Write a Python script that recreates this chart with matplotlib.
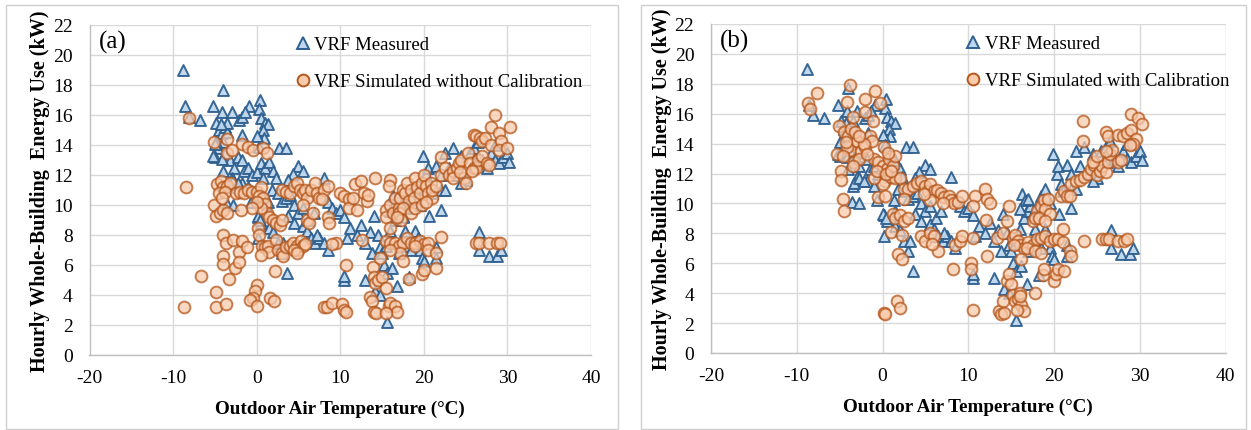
import matplotlib
matplotlib.use("Agg")
import matplotlib.pyplot as plt
from matplotlib.patches import Rectangle
from matplotlib.lines import Line2D

plt.rcParams['font.family'] = ['Liberation Serif', 'DejaVu Serif']
plt.rcParams['axes.unicode_minus'] = False

# ---------------- data (temperature degC, energy kW) ----------------
measured = [
    (-8.8, 19.0), (-8.6, 16.6), (-6.8, 15.7), (-8.1, 15.9), (-5.2, 16.6), (-4.0, 17.7),
    (-4.2, 16.2), (-3.0, 16.2), (-4.9, 15.5), (-4.5, 15.0), (-4.2, 14.8), (-3.8, 15.2),
    (-3.5, 14.9), (-4.0, 14.2), (-4.6, 13.8), (-5.0, 13.2), (-4.9, 14.2), (-3.8, 13.5),
    (-3.2, 13.0), (-4.1, 13.1), (-3.5, 15.5), (-4.3, 15.4), (-2.1, 15.7), (-1.7, 15.9),
    (-0.9, 16.6), (-1.4, 16.2), (-1.7, 14.7), (-2.2, 13.2), (-1.8, 13.0), (-1.5, 12.3),
    (0.4, 17.0), (0.3, 16.4), (0.5, 15.8), (1.0, 15.5), (1.4, 15.4), (0.8, 15.0),
    (0.9, 14.5), (0.05, 14.6), (0.3, 13.9), (-1.0, 12.5), (-0.5, 12.0), (0.0, 12.2),
    (0.5, 12.8), (1.0, 12.5), (1.5, 12.9), (2.0, 12.3), (2.3, 11.8), (-2.7, 12.5),
    (-3.0, 11.8), (-1.8, 11.5), (-1.0, 11.2), (0.7, 11.8), (1.8, 11.0), (2.7, 13.8),
    (3.5, 13.8), (5.0, 12.6), (5.5, 12.3), (4.3, 12.1), (3.8, 11.7), (2.5, 10.8),
    (3.0, 10.3), (3.5, 10.5), (4.0, 10.7), (4.5, 10.0), (5.0, 9.5), (5.5, 9.8),
    (3.8, 9.3), (4.5, 8.8), (5.5, 8.6), (6.0, 8.3), (6.5, 7.8), (7.0, 7.5),
    (7.5, 7.8), (8.0, 7.5), (8.5, 7.0), (6.2, 9.0), (6.8, 9.5), (7.2, 8.0),
    (1.3, 10.2), (1.5, 9.5), (0.2, 9.2), (0.5, 8.8), (1.5, 8.5), (2.0, 8.2),
    (2.5, 7.5), (3.0, 6.8), (3.2, 7.5), (3.6, 5.5), (8.0, 11.8), (8.5, 10.2),
    (9.0, 9.8), (9.5, 9.5), (10.0, 9.7), (10.5, 9.2), (10.8, 7.8), (11.2, 8.5),
    (12.0, 8.0), (12.5, 8.7), (13.0, 7.5), (13.5, 8.2), (13.8, 6.8), (14.0, 9.3),
    (14.5, 8.0), (14.8, 7.2), (15.0, 6.8), (15.5, 7.3), (15.2, 6.0), (15.6, 5.5),
    (13.0, 5.0), (14.2, 4.3), (14.8, 4.0), (15.6, 2.2), (10.5, 5.0), (10.5, 5.3),
    (16.0, 8.3), (16.5, 9.0), (16.8, 9.5), (17.2, 9.8), (17.5, 9.3), (16.2, 5.8),
    (16.8, 4.6), (17.0, 6.8), (17.5, 7.5), (17.8, 8.3), (18.0, 7.3), (18.5, 7.0),
    (19.0, 8.3), (19.3, 7.8), (19.5, 7.0), (19.8, 6.5), (20.0, 6.3), (18.2, 5.2),
    (19.9, 13.3), (20.3, 12.0), (20.5, 12.5), (20.8, 11.3), (21.0, 10.8), (20.6, 9.3),
    (21.5, 12.6), (22.0, 9.7), (21.5, 7.2), (21.5, 6.5), (22.0, 11.0), (22.5, 13.5),
    (22.5, 11.0), (23.0, 12.5), (23.5, 13.8), (24.0, 12.0), (24.5, 13.3), (25.0, 11.7),
    (25.5, 13.5), (26.0, 13.8), (26.2, 12.8), (26.5, 14.2), (27.0, 13.0), (27.5, 12.5),
    (28.0, 13.5), (28.5, 14.0), (28.5, 13.0), (29.0, 12.8), (29.5, 13.2), (30.0, 13.5),
    (30.2, 12.9), (26.6, 8.2), (26.6, 7.0), (27.8, 6.6), (28.8, 6.6), (29.2, 7.0),
    (22.0, 12.0), (24.5, 11.5), (17.5, 9.2), (18.0, 9.8), (18.5, 10.5), (19.0, 11.0),
    (19.5, 10.0), (-5.2, 13.3), (-5.0, 14.1), (-4.0, 12.3), (-3.5, 11.2), (-3.6, 10.1),
    (-2.8, 10.0), (-3.3, 11.4), (-2.8, 11.7), (-2.2, 11.5), (0.2, 7.8), (0.1, 9.3),
    (0.4, 9.0), (-0.7, 10.2), (16.3, 10.6), (16.6, 10.2), (16.0, 9.6), (17.0, 10.3),
]

sim_uncal = [
    (-8.7, 3.2), (-8.5, 11.2), (-8.1, 15.8), (-6.7, 5.3), (-4.9, 4.2), (-4.9, 3.2),
    (-3.7, 3.4), (-5.1, 14.2), (-3.6, 14.4), (-3.5, 13.5), (-3.0, 13.7), (-5.1, 10.0),
    (-4.9, 9.3), (-4.4, 9.5), (-4.0, 9.7), (-3.5, 9.5), (-4.7, 11.4), (-4.3, 11.6),
    (-4.0, 11.2), (-3.6, 11.3), (-3.2, 11.5), (-4.5, 10.8), (-3.8, 10.9), (-4.2, 10.5),
    (-2.5, 10.8), (-2.0, 10.9), (-1.5, 10.8), (-1.0, 11.0), (-0.5, 10.9), (0.0, 10.9),
    (0.5, 11.2), (0.3, 10.6), (0.8, 10.5), (1.0, 10.1), (1.2, 9.5), (0.5, 9.8),
    (0.0, 10.2), (-0.5, 9.8), (-1.9, 9.7), (-4.0, 8.0), (-3.7, 7.5), (-2.8, 7.7),
    (-1.8, 7.6), (-2.1, 6.9), (-1.1, 7.2), (-4.0, 6.6), (-4.0, 6.1), (-2.6, 5.8),
    (-2.1, 6.2), (-3.3, 5.1), (-1.8, 14.1), (-1.0, 13.9), (-0.4, 13.7), (0.8, 13.8),
    (1.2, 13.5), (0.1, 8.5), (0.3, 8.0), (0.6, 7.3), (1.0, 7.2), (1.3, 7.3),
    (1.5, 6.9), (0.5, 6.7), (0.0, 4.7), (-0.2, 4.3), (-0.4, 3.8), (-0.8, 3.7),
    (0.0, 3.3), (1.6, 3.8), (2.1, 3.6), (2.2, 5.6), (2.3, 7.7), (1.5, 9.2),
    (2.0, 9.0), (2.3, 8.8), (2.8, 8.7), (3.0, 9.0), (2.5, 7.0), (3.0, 6.8),
    (3.2, 6.6), (3.5, 7.2), (4.0, 7.3), (4.3, 7.5), (4.8, 7.3), (5.0, 7.0),
    (5.3, 7.6), (5.5, 7.3), (5.8, 7.4), (4.5, 7.0), (4.8, 6.8), (3.0, 11.0),
    (3.5, 10.9), (4.0, 10.8), (4.5, 11.3), (4.8, 11.5), (5.2, 11.0), (5.5, 10.8),
    (5.8, 11.0), (6.0, 10.5), (6.5, 11.0), (7.0, 11.5), (7.2, 10.8), (7.5, 10.5),
    (8.0, 11.0), (8.5, 11.3), (7.8, 10.4), (5.5, 10.0), (6.0, 9.0), (6.3, 8.8),
    (6.7, 9.5), (8.5, 9.2), (8.6, 8.8), (9.5, 7.5), (9.0, 7.4), (8.0, 3.2),
    (8.4, 3.2), (9.0, 3.5), (10.2, 3.4), (10.5, 3.0), (10.7, 2.9), (10.7, 6.0),
    (10.0, 10.8), (10.5, 10.6), (11.0, 10.4), (11.0, 9.8), (11.5, 10.5), (11.8, 11.4),
    (12.5, 11.6), (12.8, 10.8), (13.2, 10.3), (13.3, 10.7), (12.0, 9.7), (12.6, 7.7),
    (14.2, 11.8), (13.5, 3.9), (13.8, 3.6), (14.0, 2.9), (14.3, 2.8), (13.9, 5.9),
    (14.0, 5.2), (14.2, 4.8), (14.5, 5.0), (14.8, 6.5), (15.0, 5.2), (15.5, 4.5),
    (15.8, 3.3), (16.0, 3.5), (16.5, 3.3), (16.8, 2.9), (15.5, 2.8), (15.5, 9.7),
    (16.0, 10.0), (16.0, 11.7), (15.8, 11.3), (15.5, 9.2), (16.0, 8.5), (16.3, 9.5),
    (16.5, 10.5), (17.0, 9.8), (17.2, 10.5), (17.5, 11.0), (17.8, 10.8), (18.0, 11.5),
    (18.2, 10.3), (18.5, 11.0), (18.8, 10.5), (19.0, 11.8), (19.2, 11.2), (19.5, 10.8),
    (19.8, 11.5), (20.0, 12.0), (20.3, 11.3), (20.5, 10.8), (20.8, 11.5), (21.0, 10.5),
    (17.0, 9.5), (17.5, 9.8), (18.5, 9.5), (19.0, 9.8), (19.8, 10.0), (20.2, 10.2),
    (17.3, 9.0), (16.8, 9.2), (15.5, 7.6), (16.0, 7.5), (16.5, 7.5), (17.0, 7.3),
    (17.5, 7.5), (18.0, 7.8), (18.5, 7.5), (19.0, 7.5), (19.5, 7.6), (20.0, 7.4),
    (20.5, 7.5), (17.2, 6.8), (16.0, 7.0), (19.0, 7.3), (17.5, 6.3), (18.2, 5.1),
    (19.8, 5.4), (20.0, 5.7), (20.5, 7.0), (21.5, 5.8), (21.5, 6.8), (22.0, 7.9),
    (21.0, 11.0), (21.5, 11.3), (22.0, 12.0), (22.0, 13.2), (22.5, 12.5), (23.0, 12.0),
    (23.5, 12.3), (24.0, 12.5), (24.2, 12.8), (24.5, 13.0), (24.8, 11.8), (25.0, 11.5),
    (25.3, 13.5), (25.5, 12.8), (26.0, 12.5), (26.3, 12.5), (26.5, 13.0), (27.0, 13.3),
    (27.5, 12.8), (27.8, 12.7), (26.0, 14.7), (26.3, 14.6), (26.7, 14.5), (27.0, 14.3),
    (27.3, 14.5), (28.0, 14.0), (28.0, 15.2), (28.5, 16.0), (29.0, 14.8), (29.2, 14.3),
    (29.0, 13.7), (30.0, 13.8), (30.3, 15.2), (23.5, 11.8), (24.3, 12.2), (25.8, 12.3),
    (26.3, 7.5), (26.6, 7.5), (27.8, 7.5), (28.8, 7.5), (29.1, 7.5),
]

sim_cal = [
    (-8.7, 16.7), (-8.4, 16.3), (-7.6, 17.4), (-3.8, 17.9), (-4.1, 16.8), (-2.0, 17.0),
    (-0.9, 17.5), (-0.3, 16.7), (-1.1, 15.5), (-2.0, 16.1), (-3.5, 15.8), (-5.1, 15.2),
    (-5.3, 13.3), (-4.9, 12.2), (-4.9, 11.6), (-4.6, 10.3), (-4.5, 9.5), (-4.5, 14.8),
    (-4.0, 14.5), (-3.5, 14.0), (-3.8, 13.6), (-4.2, 13.8), (-3.0, 14.2), (-2.5, 13.5),
    (-2.0, 13.8), (-1.5, 14.5), (-1.2, 14.2), (-1.0, 13.0), (-3.3, 12.8), (-2.8, 13.0),
    (-3.5, 12.5), (-4.6, 13.2), (-2.2, 14.0), (-0.5, 12.8), (0.0, 12.5), (0.5, 12.3),
    (0.8, 13.0), (1.2, 12.5), (1.5, 13.2), (0.3, 11.5), (0.0, 11.3), (1.0, 11.8),
    (1.5, 11.7), (2.0, 11.7), (-1.0, 11.7), (-0.5, 10.4), (0.3, 10.5), (0.2, 13.8),
    (0.6, 13.4), (-3.7, 15.0), (-3.2, 14.8), (-4.3, 14.1), (-2.7, 14.5), (-1.8, 13.3),
    (-0.7, 12.2), (0.4, 12.0), (1.0, 12.2), (2.5, 11.0), (3.0, 11.0), (3.5, 11.2),
    (4.0, 11.4), (4.5, 11.5), (5.0, 11.2), (5.3, 10.8), (5.5, 11.3), (6.0, 10.8),
    (6.3, 10.9), (6.8, 10.7), (7.2, 10.4), (7.7, 10.5), (8.0, 10.2), (8.3, 10.0),
    (8.8, 10.1), (9.3, 10.5), (5.5, 10.2), (4.8, 10.6), (7.0, 10.0), (1.2, 9.3),
    (1.5, 9.0), (2.0, 9.2), (2.5, 8.8), (3.0, 9.0), (2.5, 10.3), (1.0, 8.1),
    (2.3, 7.9), (1.8, 6.6), (2.3, 6.3), (4.5, 7.8), (5.0, 7.5), (5.5, 8.0),
    (6.0, 7.8), (6.5, 6.8), (5.8, 7.3), (8.2, 5.6), (8.5, 7.2), (9.0, 7.5),
    (9.3, 7.8), (10.5, 7.7), (10.3, 6.0), (10.3, 5.6), (10.5, 2.9), (1.7, 3.5),
    (2.0, 3.0), (0.2, 2.7), (0.3, 2.6), (10.8, 10.5), (10.5, 9.8), (12.0, 11.0),
    (12.2, 10.3), (12.5, 10.0), (12.1, 8.9), (12.2, 6.5), (13.4, 7.7), (14.0, 8.0),
    (14.7, 9.8), (14.5, 8.8), (13.6, 2.8), (13.8, 2.6), (14.0, 3.5), (14.2, 2.7),
    (14.5, 4.8), (14.7, 5.3), (15.0, 4.6), (15.2, 3.9), (15.5, 3.5), (15.8, 3.6),
    (16.0, 4.0), (16.2, 3.2), (16.5, 2.8), (15.7, 2.9), (16.0, 3.8), (15.2, 7.7),
    (15.5, 7.9), (15.8, 7.5), (16.0, 7.2), (16.5, 7.0), (17.0, 7.4), (17.5, 7.2),
    (18.0, 7.6), (18.5, 7.7), (19.0, 7.8), (19.5, 7.5), (20.0, 7.6), (20.5, 7.6),
    (21.0, 7.4), (16.8, 7.0), (17.8, 6.8), (18.5, 6.7), (16.2, 6.3), (15.3, 7.2),
    (17.5, 8.8), (18.0, 9.5), (18.5, 9.8), (18.8, 10.2), (19.0, 9.6), (19.3, 10.3),
    (19.5, 9.3), (17.8, 9.0), (18.3, 9.0), (19.0, 8.8), (17.8, 4.0), (18.7, 5.2),
    (18.8, 5.6), (20.0, 4.8), (20.2, 5.3), (20.5, 5.6), (21.2, 5.5), (21.0, 8.3),
    (21.8, 6.8), (22.0, 6.5), (20.8, 10.5), (21.2, 10.8), (21.5, 10.5), (21.8, 10.5),
    (22.0, 11.3), (22.5, 11.5), (23.0, 11.6), (23.5, 11.8), (24.0, 12.0), (24.3, 12.3),
    (24.7, 12.6), (25.0, 11.9), (25.3, 12.2), (25.6, 12.5), (26.0, 12.1), (26.3, 12.8),
    (26.5, 13.3), (26.8, 13.6), (27.5, 12.8), (27.8, 12.9), (24.5, 12.8), (25.0, 13.2),
    (26.0, 13.5), (23.4, 15.5), (23.4, 14.2), (26.0, 14.8), (26.3, 14.5), (27.5, 14.6),
    (28.0, 14.5), (28.5, 14.7), (29.0, 14.9), (29.5, 14.3), (29.2, 14.0), (28.8, 13.9),
    (29.0, 16.0), (29.8, 15.7), (30.2, 15.3), (23.5, 7.5), (25.6, 7.6), (26.0, 7.6),
    (26.4, 7.6), (27.5, 7.5), (28.1, 7.5), (28.5, 7.6),
]

x_ticks = [-20, -10, 0, 10, 20, 30, 40]
y_ticks = [0, 2, 4, 6, 8, 10, 12, 14, 16, 18, 20, 22]
panel_tags = ['(a)', '(b)']
measured_label = 'VRF Measured'
sim_labels = ['VRF Simulated without Calibration', 'VRF Simulated with Calibration']
x_title = 'Outdoor Air Temperature (\u00b0C)'
y_title = 'Hourly Whole-Building  Energy Use (kW)'

# ---------------- styling ----------------
W, H = 1251, 431
fig = plt.figure(figsize=(W / 100, H / 100), dpi=100)

tri_face = '#BDD7EE'
tri_edge = '#2E5F8F'
cir_face = '#F8CBAD'
cir_edge = '#B5561A'
grid_c = '#D9D9D9'

# chart frames
for (x0, x1) in [(6, 618), (641, 1246)]:
    fig.patches.append(Rectangle((x0 / W, 1 / H), (x1 - x0) / W, (H - 7) / H,
                                 transform=fig.transFigure, fill=False,
                                 edgecolor='#D0D0D0', linewidth=1.0))

ax_pos = [
    [89.5 / W, (H - 356) / H, (591 - 89.5) / W, 330 / H],
    [711 / W, (H - 354) / H, (1225.6 - 711) / W, 329 / H],
]
legend_x = [0.381, 0.466]

for i, sim in enumerate([sim_uncal, sim_cal]):
    ax = fig.add_axes(ax_pos[i])
    mx = [p[0] for p in measured]
    my = [p[1] for p in measured]
    sx = [p[0] for p in sim]
    sy = [p[1] for p in sim]
    ax.scatter(mx, my, marker='^', s=62, facecolor=tri_face, edgecolor=tri_edge,
               linewidths=1.4, alpha=0.95, zorder=3)
    ax.scatter(sx, sy, marker='o', s=72, facecolor=cir_face, edgecolor=cir_edge,
               linewidths=1.4, alpha=0.75, zorder=4)
    ax.set_xlim(-20, 40)
    ax.set_ylim(0, 22)
    ax.set_xticks(x_ticks)
    ax.set_yticks(y_ticks)
    ax.grid(True, color=grid_c, linewidth=1.0, zorder=0)
    ax.set_axisbelow(True)
    for s in ['top', 'right']:
        ax.spines[s].set_visible(False)
    for s in ['left', 'bottom']:
        ax.spines[s].set_color('#BFBFBF')
        ax.spines[s].set_linewidth(1.0)
    ax.tick_params(length=0, labelsize=14, colors='#000000')
    ax.tick_params(axis='y', pad=12)
    ax.tick_params(axis='x', pad=10)
    ax.set_xlabel(x_title, fontsize=13.8, fontweight='bold', labelpad=10)
    ax.set_ylabel(y_title, fontsize=14.5, fontweight='bold', labelpad=2)
    ax.text(0.018, 0.985, panel_tags[i], transform=ax.transAxes, fontsize=18,
            va='top', ha='left')
    handles = [
        Line2D([], [], linestyle='none', marker='^', markersize=8,
               markerfacecolor=tri_face, markeredgecolor=tri_edge, markeredgewidth=1.4),
        Line2D([], [], linestyle='none', marker='o', markersize=8.5,
               markerfacecolor=cir_face, markeredgecolor=cir_edge, markeredgewidth=1.4),
    ]
    ax.legend(handles, [measured_label, sim_labels[i]], loc='upper left',
              bbox_to_anchor=(legend_x[i], 1.0), frameon=False, fontsize=13.5,
              handletextpad=0.0, handlelength=1.2, labelspacing=1.05,
              borderaxespad=0.2)

fig.savefig('out.png', dpi=100)
